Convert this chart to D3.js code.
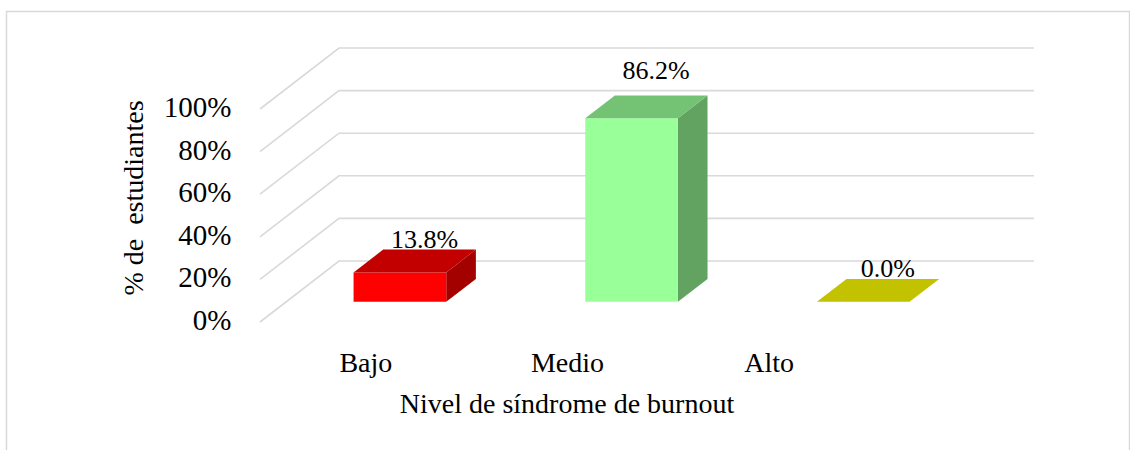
<!DOCTYPE html>
<html>
<head>
<meta charset="utf-8">
<script src="https://cdn.jsdelivr.net/npm/d3@7"></script>
<style>
  body { margin: 0; background: #fff; }
  text { font-family: "Liberation Serif", "Times New Roman", serif; fill: #000; }
</style>
</head>
<body>
<script>
var categories = ['Bajo', 'Medio', 'Alto'];
var values = [0.138, 0.862, 0.0];
var barColors = ['#FF0000', '#99FF99', '#FFFF00'];
var ticks = [0, 0.2, 0.4, 0.6, 0.8, 1.0];
var yTitle = '% de  estudiantes';
var xTitle = 'Nivel de síndrome de burnout';

var W = 1130, H = 450;
// depth vector, back wall -> front edge of the floor
var dep = { x: -79, y: 61 };
// the bars sit between these depth fractions (0 = back, 1 = front)
var zBack = 0.295, zFront = 0.67;

var svg = d3.select('body').append('svg')
  .attr('width', W)
  .attr('height', H);

svg.append('rect')
  .attr('x', 6.5).attr('y', 11.5)
  .attr('width', 1123).attr('height', 460)
  .attr('fill', '#fff')
  .attr('stroke', '#d9d9d9')
  .attr('stroke-width', 1.5);

var y = d3.scaleLinear().domain([0, 1]).range([261, 48]);
var x = d3.scaleBand().domain(categories).range([339, 1034]).padding(0);
var xLab = d3.scaleBand().domain(categories).range([265, 870]).padding(0);

function shade(c, k) {
  var r = d3.rgb(c);
  return d3.rgb(r.r * k, r.g * k, r.b * k).formatHex();
}
function pt(px, py, z) {
  return [px + dep.x * z, py + dep.y * z];
}

// gridlines: slanted side wall + back wall
svg.append('g').selectAll('polyline')
  .data(ticks)
  .enter()
  .append('polyline')
  .attr('points', function (d) {
    var p0 = pt(x.range()[0], y(d), 1);
    return [p0, [x.range()[0], y(d)], [x.range()[1], y(d)]].map(function (p) { return p.join(','); }).join(' ');
  })
  .attr('fill', 'none')
  .attr('stroke', '#d9d9d9')
  .attr('stroke-width', 1.6);

// tick labels
svg.append('g').selectAll('text')
  .data(ticks)
  .enter()
  .append('text')
  .attr('x', 231.5)
  .attr('y', function (d) { return y(d) + dep.y + 8; })
  .attr('text-anchor', 'end')
  .style('font-size', '29px')
  .text(function (d) { return Math.round(d * 100) + '%'; });

// bars
var bw = x.bandwidth() * 0.4;
var bars = svg.append('g').selectAll('g')
  .data(categories.map(function (c, i) { return { cat: c, v: values[i], col: barColors[i] }; }))
  .enter()
  .append('g');

function poly(list) { return list.map(function (p) { return p.join(','); }).join(' '); }

bars.each(function (d) {
  var g = d3.select(this);
  var x0 = x(d.cat) + (x.bandwidth() - bw) / 2 - 2;
  var x1 = x0 + bw;
  var yb = y(0), yt = y(d.v);
  // front face
  var f = [pt(x0, yt, zFront), pt(x1, yt, zFront), pt(x1, yb, zFront), pt(x0, yb, zFront)];
  // top face
  var t = [pt(x0, yt, zFront), pt(x0, yt, zBack), pt(x1, yt, zBack), pt(x1, yt, zFront)];
  // right side
  var s = [pt(x1, yt, zFront), pt(x1, yt, zBack), pt(x1, yb, zBack), pt(x1, yb, zFront)];
  if (d.v > 0) {
    g.append('polygon').attr('points', poly(s)).attr('fill', shade(d.col, 0.64));
    g.append('polygon').attr('points', poly(f)).attr('fill', d.col);
  }
  g.append('polygon').attr('points', poly(t)).attr('fill', shade(d.col, 0.76));
});

// data labels (the Medio label was dragged up a bit in the original)
var labelNudge = { Medio: -14 };
bars.append('text')
  .attr('x', function (d) { return pt(x(d.cat) + x.bandwidth() / 2 - 2, 0, zBack)[0] - 5; })
  .attr('y', function (d) { return pt(0, y(d.v), zBack)[1] - 2 + (labelNudge[d.cat] || 0); })
  .attr('text-anchor', 'middle')
  .style('font-size', '26px')
  .text(function (d) { return (d.v * 100).toFixed(1) + '%'; });

// category labels
svg.append('g').selectAll('text')
  .data(categories)
  .enter()
  .append('text')
  .attr('x', function (d) { return xLab(d) + xLab.bandwidth() / 2; })
  .attr('y', 371.5)
  .attr('text-anchor', 'middle')
  .style('font-size', '28px')
  .text(function (d) { return d; });

// axis titles
svg.append('text')
  .attr('x', 567)
  .attr('y', 413)
  .attr('text-anchor', 'middle')
  .style('font-size', '28px')
  .text(xTitle);

svg.append('text')
  .attr('transform', 'translate(143,198) rotate(-90)')
  .attr('text-anchor', 'middle')
  .style('font-size', '28px')
  .style('white-space', 'pre')
  .text(yTitle);
</script>
</body>
</html>
